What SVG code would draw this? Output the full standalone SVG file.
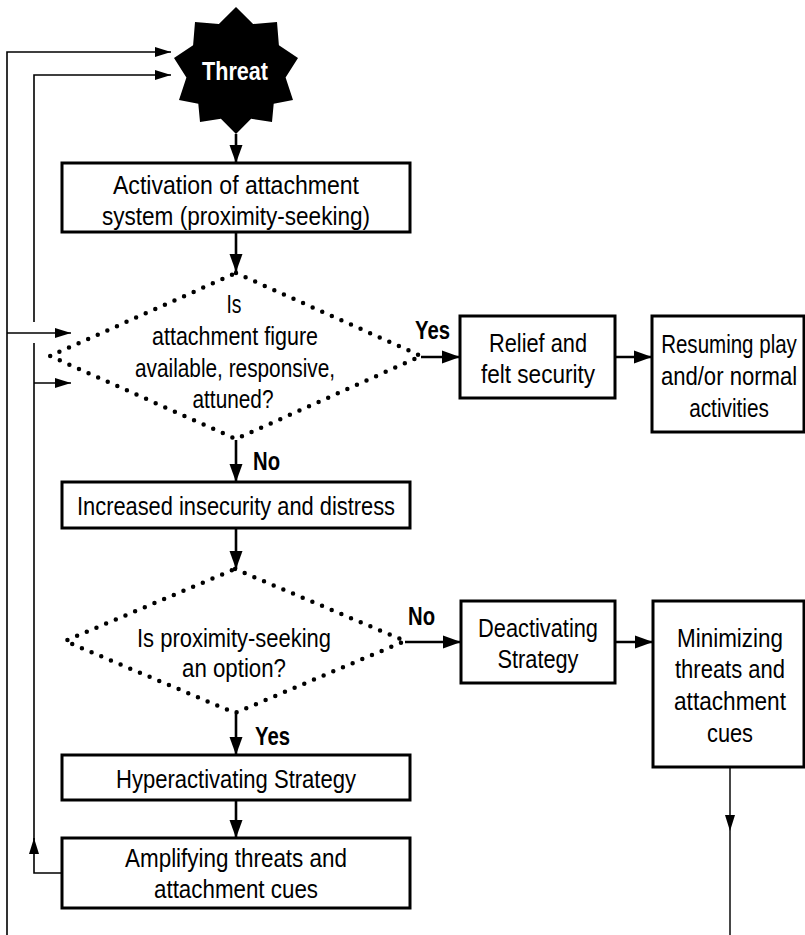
<svg xmlns="http://www.w3.org/2000/svg" width="805" height="935" viewBox="0 0 805 935">
<style>
  .box{fill:#fff;stroke:#000;stroke-width:3}
  .dia{fill:none;stroke:#000;stroke-width:4.5;stroke-linecap:round;stroke-linejoin:round;stroke-dasharray:0 10.5}
  .t{font-family:"Liberation Sans",Arial,sans-serif;font-size:26px;fill:#000;text-anchor:middle}
  .lb{font-family:"Liberation Sans",Arial,sans-serif;font-size:25px;font-weight:bold;fill:#000}
  .w{font-family:"Liberation Sans",Arial,sans-serif;font-size:26px;font-weight:bold;fill:#fff;text-anchor:middle}
  .c{fill:none;stroke:#000;stroke-width:2.6}
  .th{fill:none;stroke:#000;stroke-width:1.6}
  .gr{fill:none;stroke:#333;stroke-width:1.8}
</style>
<defs>
  <marker id="ah" markerUnits="userSpaceOnUse" markerWidth="18" markerHeight="14" refX="18" refY="7" orient="auto">
    <path d="M0,0.5 L18,7 L0,13.5 z" fill="#000"/>
  </marker>
  <marker id="as" markerUnits="userSpaceOnUse" markerWidth="16" markerHeight="12" refX="16" refY="6" orient="auto">
    <path d="M0,1 L16,6 L0,11 z" fill="#000"/>
  </marker>
</defs>

<g id="connectors">
  <path class="c" d="M236,134 V163" marker-end="url(#ah)"/>
  <path class="c" d="M236,232 V272" marker-end="url(#ah)"/>
  <path class="c" d="M421,357 H460" marker-end="url(#ah)"/>
  <path class="c" d="M615,357 H652" marker-end="url(#ah)"/>
  <path class="c" d="M236,440 V482" marker-end="url(#ah)"/>
  <path class="c" d="M236,528 V569" marker-end="url(#ah)"/>
  <path class="c" d="M405,642 H461" marker-end="url(#ah)"/>
  <path class="c" d="M615,642 H653" marker-end="url(#ah)"/>
  <path class="c" d="M236,713 V755" marker-end="url(#ah)"/>
  <path class="c" d="M236,800 V838" marker-end="url(#ah)"/>
  <path class="gr" d="M730,767 V831" marker-end="url(#as)"/>
  <path class="gr" d="M730,831 V935"/>
  <path class="th" d="M7,935 V52 H171" marker-end="url(#as)"/>
  <path class="th" d="M7,333 H71" marker-end="url(#as)"/>
  <path class="th" d="M62,873 H34 V838" marker-end="url(#as)"/>
  <path class="th" d="M34,840 V343"/>
  <path class="th" d="M34,322 V75 H171" marker-end="url(#as)"/>
  <path class="th" d="M34,383 H71" marker-end="url(#as)"/>
</g>

<g id="threat">
  <polygon fill="#000" points="236,7 253.1,24 277,22 278.9,45.2 298,58 285.6,77.6 293,100 273.7,103.8 272,122 251.1,118.7 236,134 220.9,118.7 200,122 198.3,103.8 179,100 186.4,77.6 174,58 193.1,45.2 195,22 218.9,24"/>
  <text class="w" x="235" y="80" textLength="66" lengthAdjust="spacingAndGlyphs">Threat</text>
</g>

<g id="activation">
  <rect class="box" x="62" y="163" width="348" height="69"/>
  <text class="t" x="236" y="194" textLength="246" lengthAdjust="spacingAndGlyphs">Activation of attachment</text>
  <text class="t" x="236" y="225" textLength="268" lengthAdjust="spacingAndGlyphs">system (proximity-seeking)</text>
</g>

<g id="decision1">
  <polygon class="dia" points="236,273 421,356 236,439 50,356"/>
  <text class="t" x="234" y="313" textLength="15" lengthAdjust="spacingAndGlyphs">Is</text>
  <text class="t" x="235" y="345" textLength="166" lengthAdjust="spacingAndGlyphs">attachment figure</text>
  <text class="t" x="235" y="377" textLength="200" lengthAdjust="spacingAndGlyphs">available, responsive,</text>
  <text class="t" x="233" y="408" textLength="81" lengthAdjust="spacingAndGlyphs">attuned?</text>
</g>

<g id="label-yes1"><text class="lb" x="415" y="339" textLength="35" lengthAdjust="spacingAndGlyphs">Yes</text></g>
<g id="label-no1"><text class="lb" x="253" y="470" textLength="27" lengthAdjust="spacingAndGlyphs">No</text></g>
<g id="label-no2"><text class="lb" x="408" y="625" textLength="27" lengthAdjust="spacingAndGlyphs">No</text></g>
<g id="label-yes2"><text class="lb" x="255" y="745" textLength="35" lengthAdjust="spacingAndGlyphs">Yes</text></g>

<g id="relief">
  <rect class="box" x="460" y="316" width="155" height="82"/>
  <text class="t" x="538" y="352" textLength="98" lengthAdjust="spacingAndGlyphs">Relief and</text>
  <text class="t" x="538" y="383" textLength="114" lengthAdjust="spacingAndGlyphs">felt security</text>
</g>

<g id="resuming">
  <rect class="box" x="652" y="316" width="152" height="116"/>
  <text class="t" transform="translate(729,353) scale(0.79,1)">Resuming play</text>
  <text class="t" transform="translate(729,385) scale(0.85,1)">and/or normal</text>
  <text class="t" transform="translate(729,417) scale(0.80,1)">activities</text>
</g>

<g id="increased">
  <rect class="box" x="62" y="482" width="348" height="46"/>
  <text class="t" x="236" y="515" textLength="318" lengthAdjust="spacingAndGlyphs">Increased insecurity and distress</text>
</g>

<g id="decision2">
  <polygon class="dia" points="235,569 405,641 235,713 65,641"/>
  <text class="t" x="234" y="647" textLength="194" lengthAdjust="spacingAndGlyphs">Is proximity-seeking</text>
  <text class="t" x="234" y="677" textLength="104" lengthAdjust="spacingAndGlyphs">an option?</text>
</g>

<g id="deactivating">
  <rect class="box" x="461" y="601" width="154" height="82"/>
  <text class="t" x="538" y="637" textLength="120" lengthAdjust="spacingAndGlyphs">Deactivating</text>
  <text class="t" x="538" y="668" textLength="81" lengthAdjust="spacingAndGlyphs">Strategy</text>
</g>

<g id="minimizing">
  <rect class="box" x="653" y="601" width="151" height="166"/>
  <text class="t" x="730" y="647" textLength="106" lengthAdjust="spacingAndGlyphs">Minimizing</text>
  <text class="t" x="730" y="678" textLength="110" lengthAdjust="spacingAndGlyphs">threats and</text>
  <text class="t" x="730" y="710" textLength="112" lengthAdjust="spacingAndGlyphs">attachment</text>
  <text class="t" x="730" y="742" textLength="46" lengthAdjust="spacingAndGlyphs">cues</text>
</g>

<g id="hyperactivating">
  <rect class="box" x="62" y="755" width="348" height="45"/>
  <text class="t" x="236" y="788" textLength="240" lengthAdjust="spacingAndGlyphs">Hyperactivating Strategy</text>
</g>

<g id="amplifying">
  <rect class="box" x="62" y="838" width="348" height="70"/>
  <text class="t" x="236" y="867" textLength="222" lengthAdjust="spacingAndGlyphs">Amplifying threats and</text>
  <text class="t" x="236" y="898" textLength="164" lengthAdjust="spacingAndGlyphs">attachment cues</text>
</g>
</svg>
